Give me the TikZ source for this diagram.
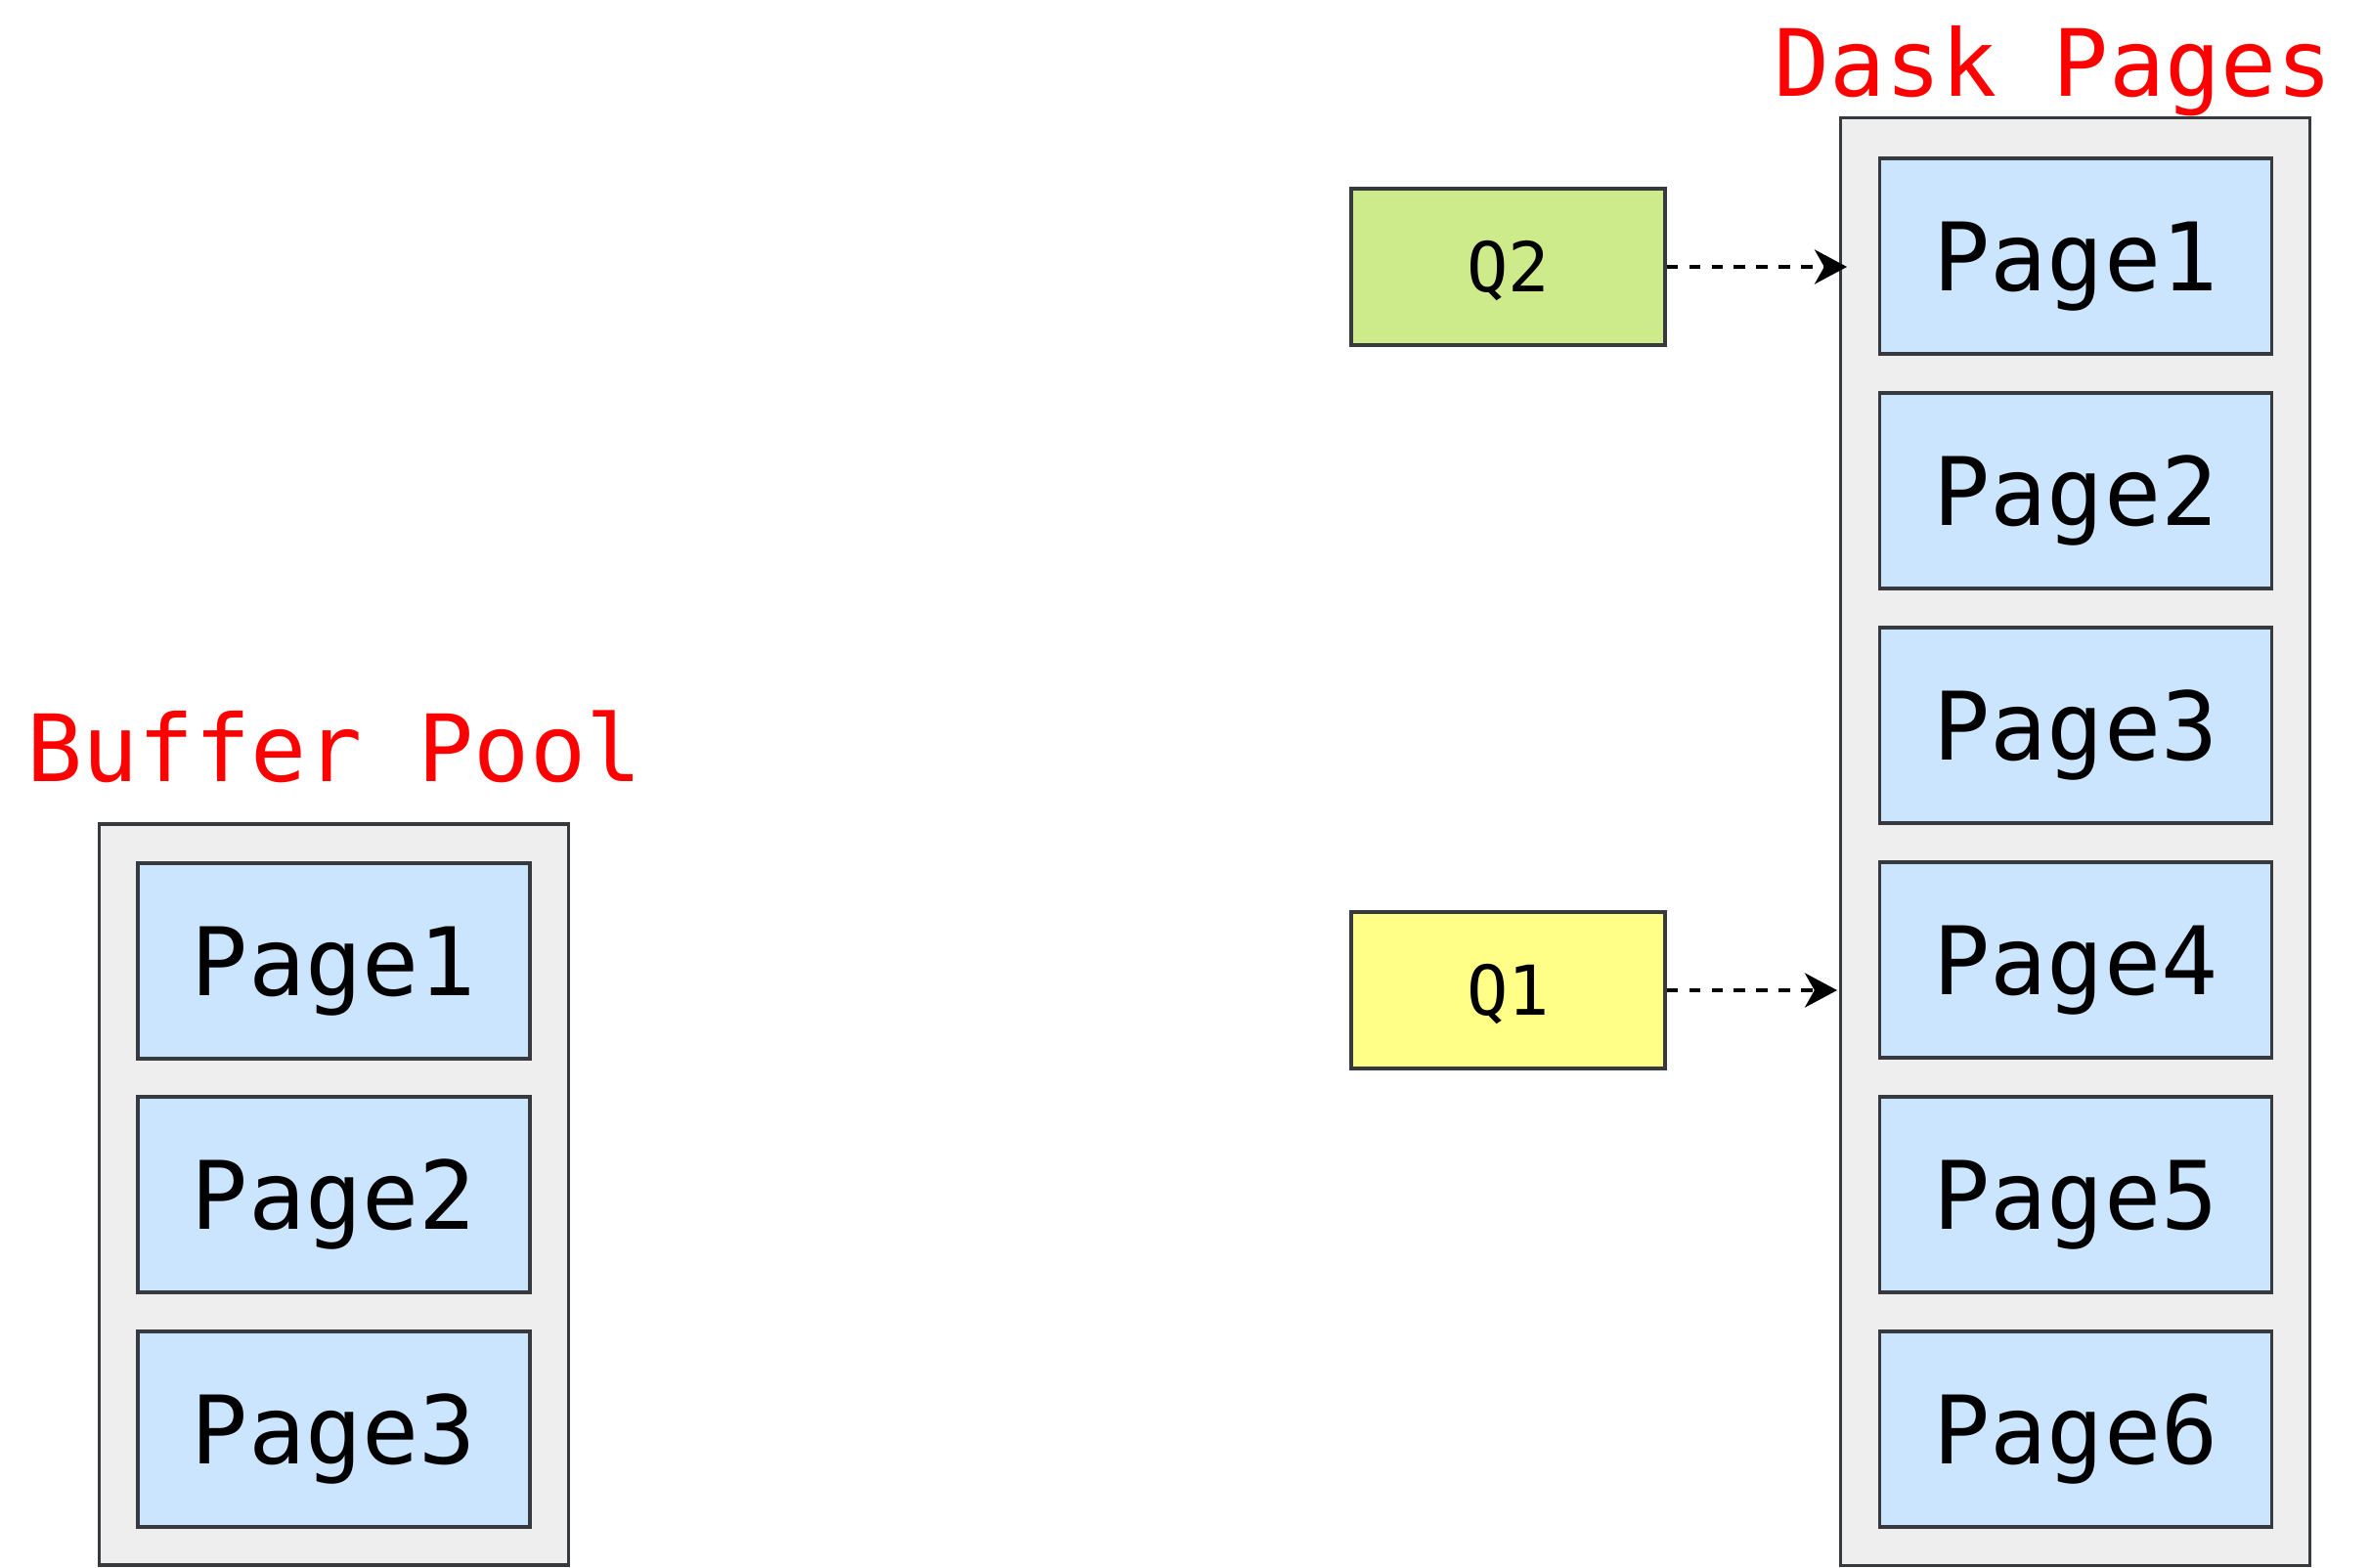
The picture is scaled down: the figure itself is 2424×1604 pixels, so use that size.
\documentclass[tikz,border=0pt]{standalone}
\usepackage{fontspec}
\newfontfamily\diagmono{DejaVu Sans Mono}
\usetikzlibrary{arrows.meta}
\definecolor{bordergray}{HTML}{36393D}
\definecolor{contgray}{HTML}{EEEEEE}
\definecolor{pageblue}{HTML}{CCE5FF}
\definecolor{qgreen}{HTML}{CDEB8B}
\definecolor{qyellow}{HTML}{FFFF88}
\definecolor{titlered}{HTML}{FF0000}
\begin{document}
\begin{tikzpicture}[x=0.01cm,y=-0.01cm,
  container/.style={draw=bordergray, line width=1pt, fill=contgray, minimum width=4.8cm, inner sep=0pt},
  pagebox/.style={draw=bordergray, line width=1pt, fill=pageblue, minimum width=4.01cm, minimum height=2cm, inner sep=0pt,
    font=\diagmono\fontsize{27.5}{33}\selectfont, text height=20.1pt, text depth=0pt},
  qbox/.style={draw=bordergray, line width=1pt, minimum width=3.21cm, minimum height=1.6cm, inner sep=0pt,
    font=\diagmono\fontsize{20}{24}\selectfont, text height=14.6pt, text depth=0pt},
  titletext/.style={text=titlered, anchor=base, inner sep=0pt, font=\diagmono\fontsize{27}{32}\selectfont},
  qarrow/.style={line width=1pt, dash pattern=on 3.3pt off 3.2pt, -{Stealth[length=9.4pt,width=10pt,inset=2.8pt]}}
]
\useasboundingbox (0,0) rectangle (2424,1604);

% Buffer pool
\node[titletext] (bptitle) at (342,800) {Buffer Pool};
\node[container, minimum height=7.58cm] (bp) at (341.5,1222) {};
\node[pagebox] (bp1) at (341.5,983) {Page1};
\node[pagebox] (bp2) at (341.5,1222) {Page2};
\node[pagebox] (bp3) at (341.5,1462) {Page3};

% Disk pages
\node[titletext] (dptitle) at (2100,99) {Dask Pages};
\node[container, minimum height=14.8cm] (dp) at (2122.5,861) {};
\node[pagebox] (dp1) at (2123,262) {Page1};
\node[pagebox] (dp2) at (2123,502) {Page2};
\node[pagebox] (dp3) at (2123,742) {Page3};
\node[pagebox] (dp4) at (2123,982) {Page4};
\node[pagebox] (dp5) at (2123,1222) {Page5};
\node[pagebox] (dp6) at (2123,1462) {Page6};

% Queries
\node[qbox, fill=qgreen] (q2) at (1542.5,273) {Q2};
\node[qbox, fill=qyellow] (q1) at (1542.5,1013) {Q1};

\coordinate (t2) at (1889,273);
\coordinate (t1) at (1879,1013);
\draw[qarrow] (q2.east) -- (t2);
\draw[qarrow] (q1.east) -- (t1);
\end{tikzpicture}
\end{document}
